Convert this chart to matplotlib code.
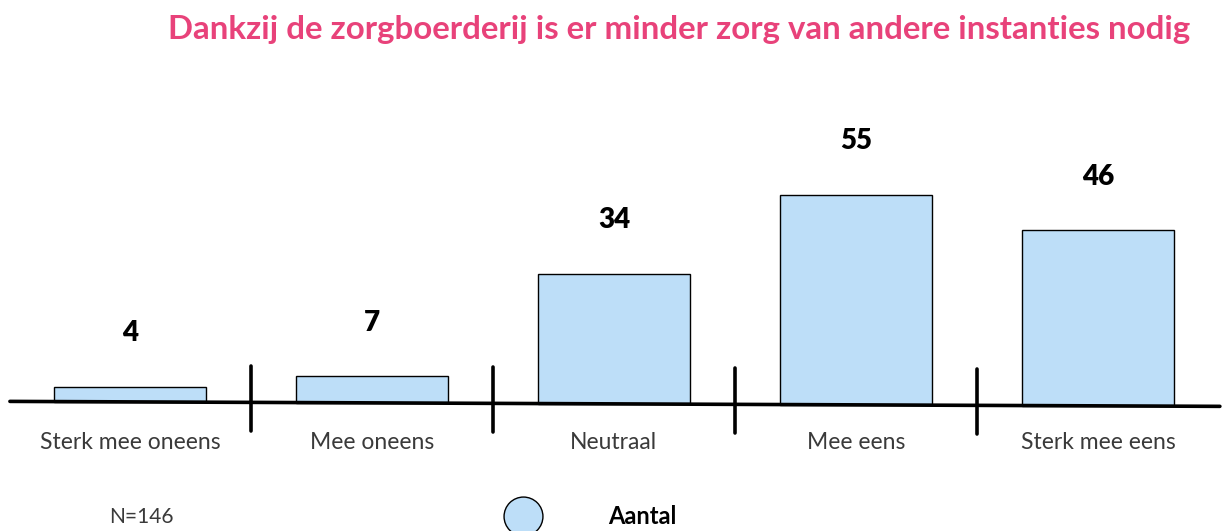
import matplotlib.pyplot as plt
from matplotlib.lines import Line2D

# data
categories = ["Sterk mee oneens", "Mee oneens", "Neutraal", "Mee eens", "Sterk mee eens"]
counts = [4, 7, 34, 55, 46]
title = "Dankzij de zorgboerderij is er minder zorg van andere instanties nodig"
note = "N=146"
series_name = "Aantal"

bar_color = "#BDDEF8"
title_color = "#E8427A"
slope = -0.26  # the baseline drops a little to the right

fig = plt.figure(figsize=(12.24, 5.31), dpi=100)
ax = fig.add_axes([0, 0, 1, 1])
ax.set_xlim(-0.537, 4.521)
ax.set_ylim(-33.8, 105.2)
ax.axis("off")

x = list(range(len(categories)))
bottoms = [slope * i for i in x]
ax.bar(x, counts, bottom=bottoms, width=0.625, color=bar_color,
       edgecolor="black", linewidth=1.0, zorder=2)

# baseline
ax.plot([-0.496, 4.504], [slope * -0.496, slope * 4.504], color="black",
        lw=2.6, solid_capstyle="round", zorder=3)

# separators between categories
for i in range(len(categories) - 1):
    xs = i + 0.5
    yb = slope * xs
    ax.plot([xs, xs], [yb + 9.5, yb - 7.5], color="black", lw=2.6,
            solid_capstyle="round", zorder=3)

# value labels
for i, v in enumerate(counts):
    ax.text(i, bottoms[i] + v + 14, str(v), ha="center", va="center",
            fontsize=20, fontweight="heavy", family="Lato", color="black")

# category labels
for i, c in enumerate(categories):
    ax.text(i, -10.6, c, ha="center", va="center", fontsize=16.5,
            fontweight="normal", family="Lato", color="#3a3a3a")

fig.text(1190 / 1224, 1 - 29 / 531, title, ha="right", va="center",
         fontsize=23.8, fontweight="bold", family="Lato", color=title_color)
fig.text(141 / 1224, 1 - 517 / 531, note, ha="center", va="center",
         fontsize=15, fontweight="normal", family="Lato", color="#3a3a3a")

handle = Line2D([], [], marker="o", ls="", markersize=28,
                markerfacecolor=bar_color, markeredgecolor="black", markeredgewidth=1)
ax.legend([handle], [series_name], loc="center left", frameon=False,
          bbox_to_anchor=(478 / 1224, 1 - 517 / 531), handletextpad=2.6,
          prop={"family": "Lato", "weight": "bold", "size": 17})

fig.savefig("out.png", dpi=100)
